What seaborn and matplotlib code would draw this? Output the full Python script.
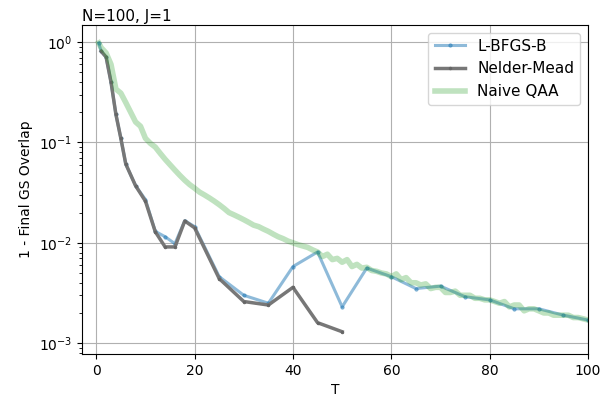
import matplotlib
matplotlib.use("Agg")
import matplotlib.pyplot as plt
import seaborn as sns
import numpy as np
import pandas as pd

# ---- data ----
T_lbfgs = [0.5, 1, 2, 3, 4, 5, 6, 8, 10, 12, 14, 16, 18, 20, 25, 30, 35, 40, 45, 50,
           55, 60, 65, 70, 75, 80, 85, 90, 95, 100]
v_lbfgs = [0.98, 0.81, 0.71, 0.40, 0.19, 0.11, 0.061, 0.037, 0.027, 0.013, 0.0115, 0.0098,
           0.0166, 0.0145, 0.0046, 0.0030, 0.0025, 0.0058, 0.0081, 0.0023,
           0.0056, 0.0046, 0.0035, 0.0037, 0.0029, 0.0027, 0.0022, 0.0022, 0.0019, 0.0017]

T_nm = [1, 2, 3, 4, 5, 6, 8, 10, 12, 14, 16, 18, 20, 25, 30, 35, 40, 45, 50]
v_nm = [0.81, 0.71, 0.40, 0.19, 0.11, 0.061, 0.037, 0.026, 0.0129, 0.0091, 0.0091, 0.0165,
        0.0141, 0.0044, 0.0026, 0.0024, 0.0036, 0.0016, 0.0013]

T_qaa = [0.5] + list(range(1, 101))
v_qaa = [0.98, 0.88, 0.78, 0.60, 0.34, 0.31, 0.25, 0.20, 0.16, 0.145, 0.11,
         0.098, 0.090, 0.078, 0.068, 0.060, 0.053, 0.047, 0.042, 0.038, 0.035,
         0.032, 0.030, 0.028, 0.026, 0.024, 0.022, 0.020, 0.019, 0.018, 0.017,
         0.016, 0.015, 0.0145, 0.0137, 0.0130, 0.0122, 0.0115, 0.0110, 0.0104, 0.0100,
         0.0096, 0.0093, 0.0090, 0.0085, 0.0081, 0.0073, 0.0077, 0.0068, 0.0070, 0.0064,
         0.0068, 0.0058, 0.0061, 0.0056, 0.0057, 0.0053, 0.0052, 0.0050, 0.0049, 0.0046,
         0.0049, 0.0043, 0.0045, 0.0040, 0.0040, 0.0038, 0.0039, 0.0035, 0.0036, 0.0036,
         0.0032, 0.0032, 0.0033, 0.0030, 0.0030, 0.0030, 0.0028, 0.0028, 0.0027, 0.0027,
         0.0026, 0.0025, 0.0026, 0.0023, 0.0024, 0.0024, 0.0021, 0.0022, 0.0022, 0.0021,
         0.0020, 0.0020, 0.0019, 0.0019, 0.0019, 0.0019, 0.0018, 0.0018, 0.00175, 0.0017]

title = "N=100, J=1"
xlabel = "T"
ylabel = "1 - Final GS Overlap"

# ---- plot ----
fig = plt.figure(figsize=(6.1, 4.0), dpi=100)
ax = fig.add_axes([0.134, 0.115, 0.830, 0.8225])

blue = "tab:blue"
gray = "#777777"
sns.lineplot(x=T_lbfgs, y=v_lbfgs, ax=ax, color=blue, alpha=0.5, lw=2.2,
             marker=".", markersize=5, mec=blue, mew=0.5, label="L-BFGS-B", sort=False)
sns.lineplot(x=T_nm, y=v_nm, ax=ax, color=gray, lw=2.5,
             marker=".", markersize=4, mec="#666666", mfc="#666666", mew=0.5,
             label="Nelder-Mead", sort=False)
sns.lineplot(x=T_qaa, y=v_qaa, ax=ax, color="tab:green", alpha=0.3, lw=4,
             label="Naive QAA", sort=False)

ax.set_yscale("log")
ax.set_xlim(-2.95, 100)
ax.set_ylim(7.8e-4, 1.48)
ax.grid(True, which="major", color="#b0b0b0", lw=0.8)
ax.set_xlabel(xlabel, fontsize=10)
ax.set_ylabel(ylabel, fontsize=10)
ax.set_title(title, loc="left", fontsize=11, pad=3)
ax.legend(loc="upper right", fontsize=11)
for s in ax.spines.values():
    s.set_visible(True)
    s.set_color("black")

fig.savefig("out.png", dpi=100)
